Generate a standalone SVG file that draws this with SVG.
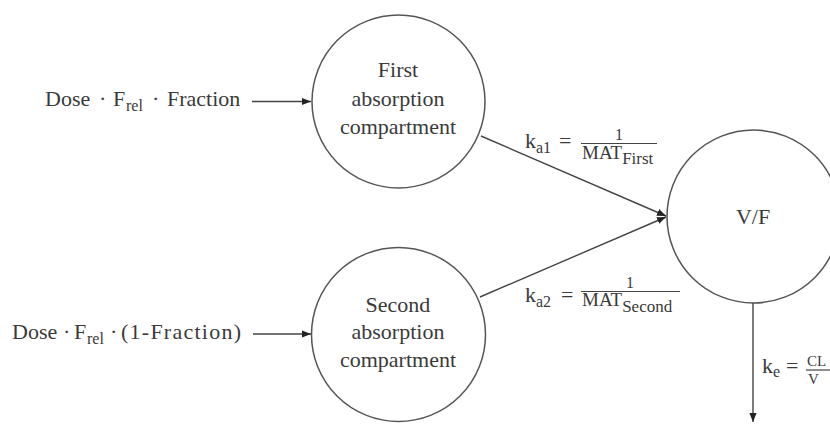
<svg xmlns="http://www.w3.org/2000/svg" width="830" height="424" viewBox="0 0 830 424">
<defs>
<style>
.t{font-family:"Liberation Serif","Times New Roman",serif;fill:#3a3a3a;font-size:22px}
.c{text-anchor:middle}
.s{font-size:16px}
.n{fill:#fff;stroke:#555;stroke-width:1.5}
.l{stroke:#444;stroke-width:1.4;fill:none}
</style>
<marker id="ah" viewBox="0 0 10 10" refX="10" refY="5" markerWidth="9" markerHeight="9" markerUnits="userSpaceOnUse" orient="auto">
<path d="M0,1 L10,5 L0,9 Z" fill="#222"/>
</marker>
</defs>
<rect width="830" height="424" fill="#fff"/>
<g id="input1">
<text class="t" y="106"><tspan x="45">Dose</tspan><tspan x="99">·</tspan><tspan x="113">F</tspan><tspan class="s" x="126" dy="5">rel</tspan><tspan x="152" dy="-5">·</tspan><tspan x="167">Fraction</tspan></text>
</g>
<g id="input2">
<text class="t" y="339"><tspan x="12">Dose</tspan><tspan x="63">·</tspan><tspan x="74">F</tspan><tspan class="s" x="87" dy="5">rel</tspan><tspan x="110" dy="-5">·</tspan></text>
<text class="t" x="121" y="339" textLength="120" lengthAdjust="spacing">(1-Fraction)</text>
</g>
<g id="first">
<circle class="n" cx="398.5" cy="101.5" r="86.5"/>
<text class="t c" x="398" y="77">First</text>
<text class="t c" x="398" y="106">absorption</text>
<text class="t c" x="398" y="134">compartment</text>
</g>
<g id="second">
<circle class="n" cx="398.5" cy="334.5" r="87"/>
<text class="t c" x="398" y="312">Second</text>
<text class="t c" x="398" y="339">absorption</text>
<text class="t c" x="398" y="367">compartment</text>
</g>
<g id="vf">
<circle class="n" cx="753.5" cy="216.5" r="86.5"/>
<text class="t c" x="753" y="224">V/F</text>
</g>
<g id="connectors">
<line class="l" x1="252" y1="101.5" x2="311" y2="101.5" marker-end="url(#ah)"/>
<line class="l" x1="253" y1="334" x2="311" y2="334" marker-end="url(#ah)"/>
<line class="l" x1="481" y1="136" x2="666" y2="216" marker-end="url(#ah)"/>
<line class="l" x1="480" y1="297" x2="666" y2="217" marker-end="url(#ah)"/>
<line class="l" x1="753" y1="303" x2="753" y2="422" marker-end="url(#ah)"/>
<g id="ka1">
<text class="t" x="525" y="148">k<tspan class="s" dy="5">a1</tspan></text>
<text class="t" x="559" y="148">=</text>
<text class="t c" x="619" y="140" style="font-size:16px">1</text>
<line x1="581" y1="143.5" x2="657" y2="143.5" stroke="#444" stroke-width="1.2"/>
<text class="t" x="582" y="159" style="font-size:19px">MAT<tspan style="font-size:17px" dy="5">First</tspan></text>
</g>
<g id="ka2">
<text class="t" x="525" y="302">k<tspan class="s" dy="5">a2</tspan></text>
<text class="t" x="561" y="302">=</text>
<text class="t c" x="630" y="288" style="font-size:16px">1</text>
<line x1="581" y1="291.5" x2="680" y2="291.5" stroke="#444" stroke-width="1.2"/>
<text class="t" x="582" y="306" style="font-size:19px">MAT<tspan style="font-size:17px" dy="6">Second</tspan></text>
</g>
<g id="ke">
<text class="t" x="762" y="373">k<tspan class="s" dy="4">e</tspan></text>
<text class="t" x="786" y="373">=</text>
<text class="t" x="807" y="366" style="font-size:15px">CL</text>
<line x1="806" y1="370" x2="832" y2="370" stroke="#444" stroke-width="1.2"/>
<text class="t" x="808" y="384" style="font-size:15px">V</text>
</g>
</g>
</svg>
